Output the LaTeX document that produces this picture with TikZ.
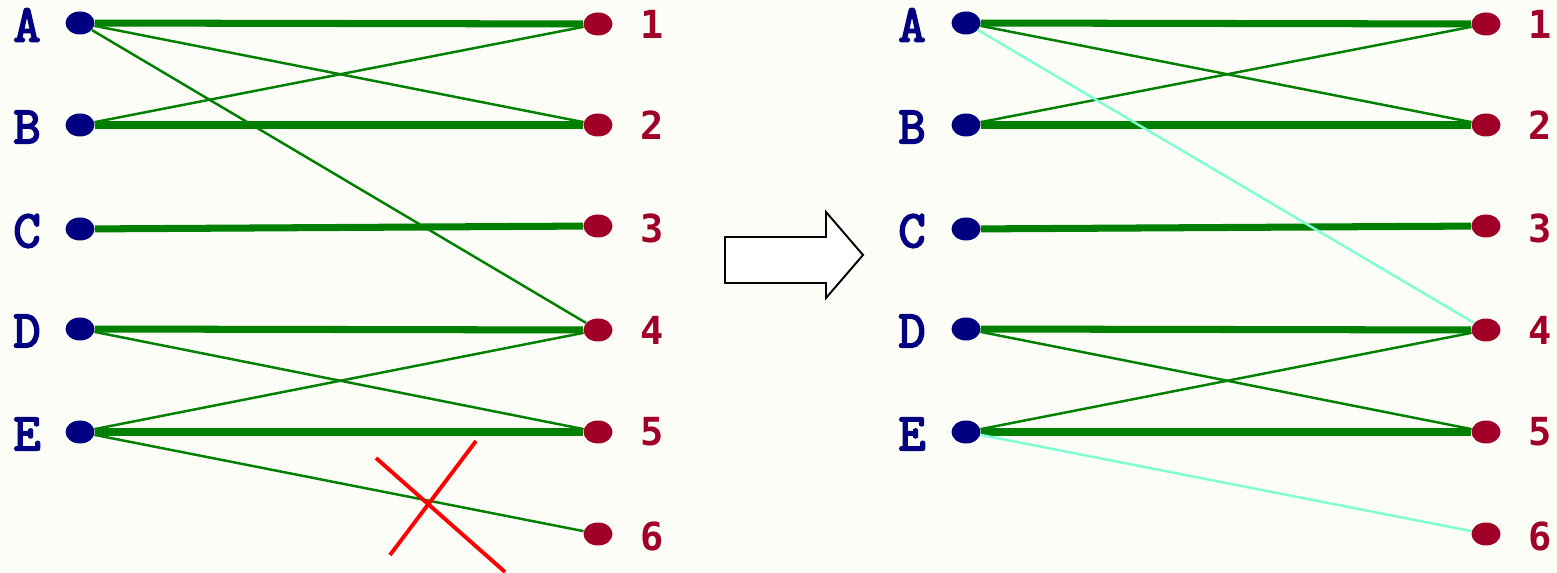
\documentclass[tikz,border=0pt]{standalone}
\usepackage{fontspec}
\usepackage{tikz}
\newfontfamily\letterfont[FakeBold=3.5]{Latin Modern Mono}
\newfontfamily\digitfont{DejaVu Sans Mono}
\usetikzlibrary{shapes.geometric}
\usetikzlibrary{positioning}
\definecolor{paper}{RGB}{253,253,247}
\definecolor{navyblue}{RGB}{0,0,128}
\definecolor{wine}{RGB}{160,0,40}
\definecolor{edgegreen}{RGB}{0,128,0}
\definecolor{aqua}{RGB}{127,255,212}
\tikzset{leftdot/.style = {ellipse, fill=navyblue, inner sep=0pt,
                           minimum width=0.58cm, minimum height=0.46cm},
         rightdot/.style = {ellipse, fill=wine, inner sep=0pt,
                            minimum width=0.58cm, minimum height=0.46cm},
         lettertext/.style = {inner sep=0pt, text=navyblue,
                              font=\letterfont\fontsize{30}{30}\selectfont},
         digittext/.style = {inner sep=0pt, text=wine,
                             font=\digitfont\bfseries\fontsize{22}{22}\selectfont},
         matched/.style = {edgegreen, line width=4pt},
         unmatched/.style = {edgegreen, line width=1.4pt},
         newedge/.style = {aqua, line width=1.4pt}}

\begin{document}
\begin{tikzpicture}[x=0.02cm, y=-0.02cm]
    \fill [paper] (0, 0) rectangle (1557, 573);
    \useasboundingbox (0, 0) rectangle (1557, 573);
    % left graph
    \node [leftdot] (lA) at (80, 23) {};
    \node [leftdot] (lB) at (80, 125) {};
    \node [leftdot] (lC) at (80, 229) {};
    \node [leftdot] (lD) at (80, 329) {};
    \node [leftdot] (lE) at (80, 432) {};
    \node [rightdot] (l1) at (598, 24) {};
    \node [rightdot] (l2) at (598, 125) {};
    \node [rightdot] (l3) at (598, 226) {};
    \node [rightdot] (l4) at (598, 330) {};
    \node [rightdot] (l5) at (598, 432) {};
    \node [rightdot] (l6) at (598, 534) {};
    \node [lettertext] at (27, 25) {A};
    \node [lettertext] at (27, 127) {B};
    \node [lettertext] at (27, 231) {C};
    \node [lettertext] at (27, 331) {D};
    \node [lettertext] at (27, 434) {E};
    \node [digittext] at (652, 24) {1};
    \node [digittext] at (652, 125) {2};
    \node [digittext] at (652, 228) {3};
    \node [digittext] at (652, 330) {4};
    \node [digittext] at (652, 432) {5};
    \node [digittext] at (652, 536) {6};
    \draw [matched] (lA) -- (l1);
    \draw [matched] (lB) -- (l2);
    \draw [matched] (lC) -- (l3);
    \draw [matched] (lD) -- (l4);
    \draw [matched] (lE) -- (l5);
    \draw [unmatched] (lA) -- (l2);
    \draw [unmatched] (lB) -- (l1);
    \draw [unmatched] (lA) -- (l4);
    \draw [unmatched] (lD) -- (l5);
    \draw [unmatched] (lE) -- (l4);
    \draw [unmatched] (lE) -- (l6);
    \draw [red, line width=2.2pt] (376, 458) -- (505, 572);
    \draw [red, line width=2.2pt] (476, 441) -- (390, 555);
    % arrow between the graphs
    \draw [line width=1.1pt, fill=white] (725, 237) -- (826, 237) -- (826, 212) -- (863, 255)
      -- (826, 298) -- (826, 283) -- (725, 283) -- cycle;
    % right graph
    \node [leftdot] (rA) at (966, 23) {};
    \node [leftdot] (rB) at (966, 125) {};
    \node [leftdot] (rC) at (966, 229) {};
    \node [leftdot] (rD) at (966, 329) {};
    \node [leftdot] (rE) at (966, 432) {};
    \node [rightdot] (r1) at (1486, 24) {};
    \node [rightdot] (r2) at (1486, 125) {};
    \node [rightdot] (r3) at (1486, 226) {};
    \node [rightdot] (r4) at (1486, 330) {};
    \node [rightdot] (r5) at (1486, 432) {};
    \node [rightdot] (r6) at (1486, 534) {};
    \node [lettertext] at (912, 25) {A};
    \node [lettertext] at (912, 127) {B};
    \node [lettertext] at (912, 231) {C};
    \node [lettertext] at (912, 331) {D};
    \node [lettertext] at (912, 434) {E};
    \node [digittext] at (1540, 24) {1};
    \node [digittext] at (1540, 125) {2};
    \node [digittext] at (1540, 228) {3};
    \node [digittext] at (1540, 330) {4};
    \node [digittext] at (1540, 432) {5};
    \node [digittext] at (1540, 536) {6};
    \draw [matched] (rA) -- (r1);
    \draw [matched] (rB) -- (r2);
    \draw [matched] (rC) -- (r3);
    \draw [matched] (rD) -- (r4);
    \draw [matched] (rE) -- (r5);
    \draw [unmatched] (rA) -- (r2);
    \draw [unmatched] (rB) -- (r1);
    \draw [newedge] (rA) -- (r4);
    \draw [unmatched] (rD) -- (r5);
    \draw [unmatched] (rE) -- (r4);
    \draw [newedge] (rE) -- (r6);
  \end{tikzpicture}
\end{document}
